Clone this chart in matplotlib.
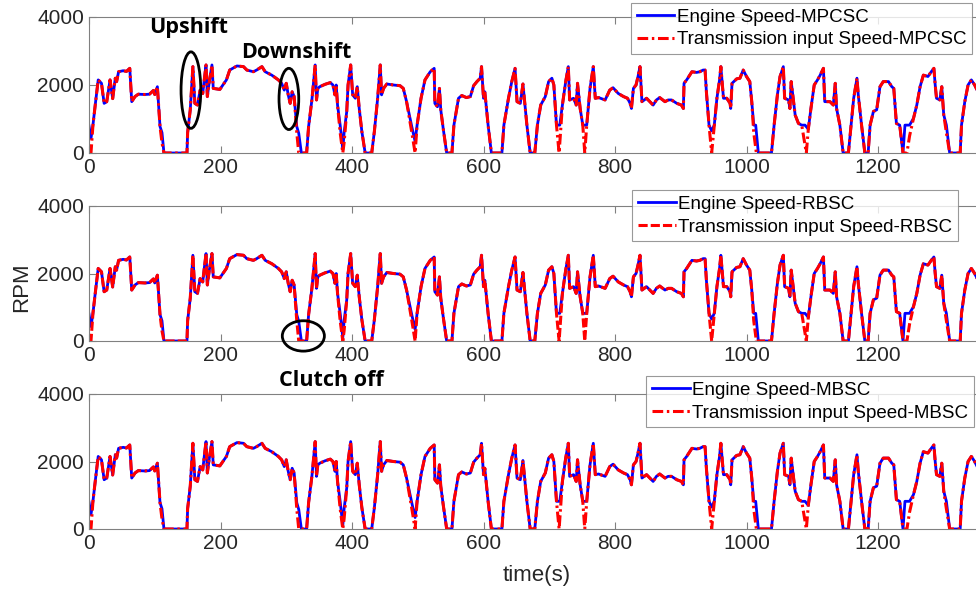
import matplotlib
matplotlib.use("Agg")
import matplotlib.pyplot as plt
from matplotlib.patches import Ellipse

plt.rcParams['font.family'] = ['Liberation Sans', 'DejaVu Sans']

# ---------------- data ----------------
t_eng = [0, 3, 6, 10, 14, 19, 23, 27, 32, 36, 40, 42, 45, 52, 57, 62, 65, 70, 75, 85,
         92, 98, 100, 104, 106, 108, 111, 114, 149, 150, 154, 158, 161, 165, 169, 173, 175, 178, 180, 183,
         187, 189, 199, 209, 214, 225, 235, 240, 250, 255, 263, 268, 278, 288, 293, 297, 300, 303, 306, 309,
         312, 316, 319, 323, 331, 334, 339, 344, 346, 348, 351, 359, 367, 371, 374, 376, 378, 382, 386, 388,
         392, 394, 398, 401, 405, 408, 411, 415, 420, 430, 434, 439, 443, 445, 448, 453, 463, 473, 478, 483,
         491, 496, 499, 505, 511, 519, 525, 526, 530, 533, 535, 539, 544, 552, 555, 562, 567, 574, 580, 585,
         590, 595, 597, 600, 602, 607, 612, 628, 631, 638, 643, 648, 651, 656, 660, 663, 666, 671, 678, 682,
         687, 694, 699, 704, 707, 711, 716, 720, 725, 729, 731, 737, 741, 743, 747, 751, 753, 757, 762, 767,
         770, 775, 785, 792, 797, 805, 813, 819, 823, 825, 828, 832, 835, 838, 841, 848, 853, 858, 863, 868,
         876, 881, 886, 894, 901, 904, 905, 909, 917, 924, 929, 934, 937, 939, 943, 947, 951, 955, 959, 961,
         965, 970, 975, 976, 978, 985, 990, 995, 1000, 1005, 1008, 1011, 1014, 1018, 1038, 1042, 1047, 1051, 1056, 1058,
         1064, 1066, 1068, 1071, 1074, 1079, 1084, 1089, 1094, 1098, 1103, 1108, 1112, 1117, 1119, 1127, 1132, 1135, 1137, 1142,
         1147, 1155, 1159, 1163, 1168, 1170, 1175, 1180, 1185, 1188, 1193, 1198, 1203, 1208, 1216, 1221, 1224, 1228, 1233, 1238,
         1241, 1248, 1254, 1259, 1264, 1269, 1276, 1281, 1285, 1287, 1289, 1294, 1297, 1300, 1304, 1309, 1325, 1327, 1332, 1337,
         1342, 1347, 1352, 1360]
rpm_eng = [800, 430, 820, 1500, 2150, 2050, 1460, 1510, 2150, 1600, 2200, 2100, 2390, 2420, 2400, 2490, 1510, 1660, 1730, 1720,
           1730, 1840, 1720, 1950, 1360, 780, 600, 0, 0, 600, 1270, 2540, 1460, 1410, 1850, 1750, 2100, 2590, 1660, 2100,
           2590, 1900, 1870, 2150, 2440, 2560, 2540, 2440, 2390, 2440, 2540, 2390, 2290, 2150, 2050, 1850, 2050, 1710, 1460, 1800,
           1660, 780, 580, 0, 0, 780, 1560, 2590, 1560, 1900, 1950, 2020, 2070, 2000, 1710, 2000, 1410, 820, 100, 600,
           1220, 2000, 2590, 1710, 1610, 1950, 1310, 630, 0, 0, 630, 1610, 2590, 1710, 1900, 2030, 2000, 1980, 1900, 1510,
           770, 340, 820, 1610, 2150, 2390, 2490, 1460, 1360, 1900, 1270, 680, 0, 0, 820, 1610, 1690, 1630, 1660, 1980,
           2100, 2200, 2540, 1610, 1800, 820, 0, 0, 820, 1610, 2100, 2490, 1510, 1460, 2030, 1410, 820, 0, 0, 820,
           1410, 1660, 2100, 2200, 2000, 820, 820, 1410, 2100, 2540, 1560, 1610, 1410, 2050, 1310, 820, 820, 820, 1900, 2540,
           1610, 1630, 1560, 1850, 1920, 1750, 1660, 1610, 1460, 1310, 1900, 2000, 2250, 2540, 1510, 1610, 1510, 1410, 1560, 1630,
           1510, 1560, 1560, 1460, 1410, 1310, 2050, 2150, 2390, 2370, 2390, 2440, 2440, 1800, 820, 650, 820, 1610, 2150, 2540,
           1610, 1610, 1460, 1310, 2050, 2180, 2200, 2440, 2250, 2100, 1510, 820, 820, 0, 0, 820, 1710, 2250, 2540, 1610,
           1560, 1310, 2100, 1610, 1120, 870, 820, 820, 700, 1310, 2000, 2150, 2290, 2490, 1510, 1510, 1410, 2050, 1310, 820,
           0, 0, 820, 1610, 2200, 1710, 820, 0, 0, 820, 1220, 1270, 1950, 2100, 2100, 1950, 1900, 870, 820, 0,
           820, 820, 1020, 1410, 1950, 2290, 2250, 2390, 2490, 2000, 1610, 1560, 1950, 1120, 820, 0, 0, 820, 1510, 2000,
           2150, 2000, 1800, 1700]

t_trans = [0, 3, 6, 10, 14, 19, 23, 27, 32, 36, 40, 42, 45, 52, 57, 62, 65, 70, 75, 85,
           92, 98, 100, 104, 106, 108, 111, 114, 149, 150, 154, 158, 161, 165, 169, 173, 175, 178, 180, 183,
           187, 189, 199, 209, 214, 225, 235, 240, 250, 255, 263, 268, 278, 288, 293, 297, 300, 303, 306, 309,
           312, 316, 319, 323, 331, 334, 339, 344, 346, 348, 351, 359, 367, 371, 374, 376, 378, 382, 386, 388,
           392, 394, 398, 401, 405, 408, 411, 415, 420, 430, 434, 439, 443, 445, 448, 453, 463, 473, 478, 483,
           491, 496, 499, 505, 511, 519, 525, 526, 530, 533, 535, 539, 544, 552, 555, 562, 567, 574, 580, 585,
           590, 595, 597, 600, 602, 607, 612, 628, 631, 638, 643, 648, 651, 656, 660, 663, 666, 671, 678, 682,
           687, 694, 699, 704, 707, 711, 715, 720, 725, 729, 731, 737, 741, 743, 747, 751, 754, 757, 762, 767,
           770, 775, 785, 792, 797, 805, 813, 819, 823, 825, 828, 832, 835, 838, 841, 848, 853, 858, 863, 868,
           876, 881, 886, 894, 901, 904, 905, 909, 917, 924, 929, 934, 937, 939, 943, 947, 951, 955, 959, 961,
           965, 970, 975, 976, 978, 985, 990, 995, 1000, 1005, 1008, 1011, 1015, 1018, 1038, 1042, 1047, 1051, 1056, 1058,
           1064, 1066, 1068, 1071, 1074, 1079, 1084, 1091, 1094, 1098, 1103, 1108, 1112, 1117, 1119, 1127, 1132, 1135, 1137, 1142,
           1147, 1155, 1159, 1163, 1168, 1170, 1175, 1180, 1185, 1188, 1193, 1198, 1203, 1208, 1216, 1221, 1224, 1228, 1233, 1238,
           1244, 1248, 1254, 1259, 1264, 1269, 1276, 1281, 1285, 1287, 1289, 1294, 1297, 1300, 1304, 1309, 1325, 1327, 1332, 1337,
           1342, 1347, 1352, 1360]
rpm_trans = [0, 0, 820, 1500, 2150, 2050, 1460, 1510, 2150, 1600, 2200, 2100, 2390, 2420, 2400, 2490, 1510, 1660, 1730, 1720,
             1730, 1840, 1720, 1950, 1360, 780, 300, 0, 0, 600, 1270, 2540, 1460, 1410, 1850, 1750, 2100, 2590, 1660, 2100,
             2590, 1900, 1870, 2150, 2440, 2560, 2540, 2440, 2390, 2440, 2540, 2390, 2290, 2150, 2050, 1850, 2050, 1710, 1460, 1800,
             1660, 600, 0, 0, 0, 780, 1560, 2590, 1560, 1900, 1950, 2020, 2070, 2000, 1710, 2000, 1410, 600, 0, 300,
             1220, 2000, 2590, 1710, 1610, 1950, 1310, 630, 0, 0, 630, 1610, 2590, 1710, 1900, 2030, 2000, 1980, 1900, 1510,
             600, 0, 820, 1610, 2150, 2390, 2490, 1460, 1360, 1900, 1270, 680, 0, 0, 820, 1610, 1690, 1630, 1660, 1980,
             2100, 2200, 2540, 1610, 1800, 820, 0, 0, 820, 1610, 2100, 2490, 1510, 1460, 2030, 1410, 820, 0, 0, 820,
             1410, 1660, 2100, 2200, 2000, 820, 0, 1410, 2100, 2540, 1560, 1610, 1410, 2050, 1310, 820, 0, 820, 1900, 2540,
             1610, 1630, 1560, 1850, 1920, 1750, 1660, 1610, 1460, 1310, 1900, 2000, 2250, 2540, 1510, 1610, 1510, 1410, 1560, 1630,
             1510, 1560, 1560, 1460, 1410, 1310, 2050, 2150, 2390, 2370, 2390, 2440, 2440, 1800, 820, 0, 820, 1610, 2150, 2540,
             1610, 1610, 1460, 1310, 2050, 2180, 2200, 2440, 2250, 2100, 1510, 600, 0, 0, 0, 820, 1710, 2250, 2540, 1610,
             1560, 1310, 2100, 1610, 1120, 870, 820, 0, 700, 1310, 2000, 2150, 2290, 2490, 1510, 1510, 1410, 2050, 1310, 820,
             0, 0, 820, 1610, 2200, 1710, 820, 0, 0, 820, 1220, 1270, 1950, 2100, 2100, 1950, 1900, 870, 820, 0,
             0, 500, 1020, 1410, 1950, 2290, 2250, 2390, 2490, 2000, 1610, 1560, 1950, 1120, 600, 0, 0, 820, 1510, 2000,
             2150, 2000, 1800, 1700]

controllers = ['MPCSC', 'RBSC', 'MBSC']
trans_styles = [(0, (3.5, 1.2, 0.8, 1.2)), (0, (3.0, 1.0)), (0, (3.5, 1.2, 0.8, 1.2))]
y_ticks = [0, 2000, 4000]
x_ticks = [0, 200, 400, 600, 800, 1000, 1200]

# ---------------- figure ----------------
W, H = 976, 592
fig = plt.figure(figsize=(W / 100, H / 100), dpi=100)

left_px = 89
px_per_s = 0.6575
xmax = 1400
width_px = xmax * px_per_s
panels_px = [(17, 153), (206, 341), (394, 529)]   # (y of 4000, y of 0)
legend_anchor_px = [(972, 3), (958, 190), (974, 376)]

axes = []
for i, (ytop, ybot) in enumerate(panels_px):
    ax = fig.add_axes([left_px / W, 1 - ybot / H, width_px / W, (ybot - ytop) / H])
    ax.plot(t_eng, rpm_eng, color='#0000FF', lw=2.0, label='Engine Speed-' + controllers[i])
    ax.plot(t_trans, rpm_trans, color='#FF0000', lw=2.2, ls=trans_styles[i],
            label='Transmission input Speed-' + controllers[i])
    ax.set_xlim(0, xmax)
    ax.set_ylim(0, 4000)
    ax.set_xticks(x_ticks)
    ax.set_yticks(y_ticks)
    ax.tick_params(direction='in', top=True, right=True, labelsize=15, colors='#262626',
                   length=5, width=0.8)
    for sp in ax.spines.values():
        sp.set_color('#808080')
        sp.set_linewidth(0.8)
    ax.tick_params(axis='both', color='#808080')
    ax.set_zorder(1)
    ax.patch.set_visible(False)
    ax_px, ay_px = legend_anchor_px[i]
    leg = ax.legend(loc='upper right', bbox_to_anchor=(ax_px / W, 1 - ay_px / H),
                    bbox_transform=fig.transFigure, fontsize=13.5, frameon=True,
                    fancybox=False, edgecolor='#808080', handlelength=2.0,
                    handletextpad=0.15, borderpad=0.3, labelspacing=0.3,
                    borderaxespad=0)
    leg.get_frame().set_linewidth(0.8)
    axes.append(ax)

# annotations
ax0, ax1 = axes[0], axes[1]
ax0.add_patch(Ellipse((155, 1850), 30, 2250, fill=False, ec='black', lw=2, clip_on=False, zorder=5))
ax0.add_patch(Ellipse((304, 1590), 30, 1800, fill=False, ec='black', lw=2, clip_on=False, zorder=5))
ax1.add_patch(Ellipse((326, 150), 64, 900, fill=False, ec='black', lw=2, clip_on=False, zorder=5))

fig.text(189 / W, 1 - 27 / H, 'Upshift', ha='center', va='center', fontsize=15.5,
         fontweight='bold', family=['Open Sans', 'DejaVu Sans'])
fig.text(296 / W, 1 - 52 / H, 'Downshift', ha='center', va='center', fontsize=15.5,
         fontweight='bold', family=['Open Sans', 'DejaVu Sans'])
fig.text(331 / W, 1 - 380 / H, 'Clutch off', ha='center', va='center', fontsize=15.5,
         fontweight='bold', family=['Open Sans', 'DejaVu Sans'])

fig.text(22 / W, 1 - 287 / H, 'RPM', rotation=90, ha='center', va='center', fontsize=16,
         color='#262626')
fig.text(537 / W, 1 - 576 / H, 'time(s)', ha='center', va='center', fontsize=16,
         color='#262626')

fig.savefig('out.png', dpi=100, facecolor='white')
